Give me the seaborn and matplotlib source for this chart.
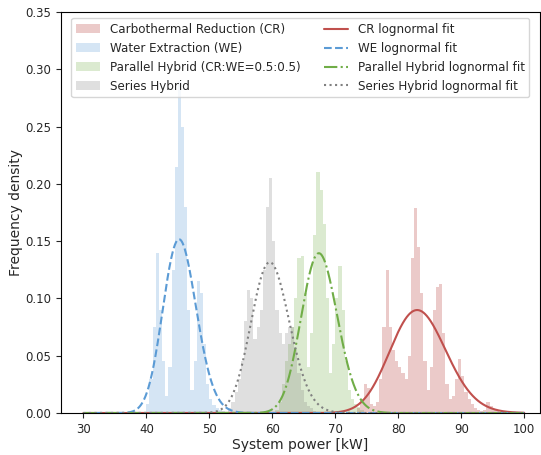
import numpy as np
import pandas as pd
import matplotlib
matplotlib.use("Agg")
import matplotlib.pyplot as plt
import seaborn as sns
from matplotlib.patches import Patch
from matplotlib.lines import Line2D

sns.set_style("ticks")
plt.rcParams['font.family'] = ['DejaVu Sans']

BIN_W = 0.5

# Histogram densities (per 0.5 kW bin), first bin left edge given
cr_start = 73.5
cr_heights = [0.004, 0.012, 0.025, 0.022, 0.008, 0.006, 0.01, 0.03, 0.075, 0.125,
              0.075, 0.055, 0.045, 0.04, 0.035, 0.03, 0.05, 0.135, 0.179, 0.145,
              0.105, 0.045, 0.02, 0.04, 0.09, 0.11, 0.113, 0.07, 0.025, 0.012,
              0.015, 0.03, 0.047, 0.032, 0.018, 0.012, 0.008, 0.004, 0.003, 0.002,
              0.003, 0.01, 0.006, 0.003, 0.002, 0.001]

we_start = 40.0
we_heights = [0.008, 0.03, 0.075, 0.14, 0.09, 0.045, 0.015, 0.04, 0.125, 0.215,
              0.29, 0.25, 0.18, 0.09, 0.02, 0.045, 0.115, 0.105, 0.06, 0.025,
              0.012, 0.007, 0.004, 0.003, 0.002]

ph_start = 60.5
ph_heights = [0.003, 0.01, 0.025, 0.045, 0.06, 0.075, 0.1, 0.135, 0.137, 0.105,
              0.04, 0.07, 0.155, 0.21, 0.195, 0.165, 0.1, 0.035, 0.06, 0.1,
              0.128, 0.09, 0.045, 0.02, 0.012, 0.008, 0.005, 0.003]

sh_start = 53.0
sh_heights = [0.004, 0.01, 0.018, 0.03, 0.045, 0.08, 0.107, 0.1, 0.065, 0.075,
              0.09, 0.125, 0.18, 0.205, 0.15, 0.09, 0.07, 0.06, 0.07, 0.075,
              0.075, 0.055, 0.035, 0.02, 0.01, 0.006, 0.004, 0.002]

# Lognormal fit parameters (shape sigma, scale = exp(mu))
cr_fit = (0.0534, 83.24)
we_fit = (0.0581, 45.35)
ph_fit = (0.0424, 67.52)
sh_fit = (0.0508, 59.75)

hist_labels = ["Carbothermal Reduction (CR)", "Water Extraction (WE)",
               "Parallel Hybrid (CR:WE=0.5:0.5)", "Series Hybrid"]
fit_labels = ["CR lognormal fit", "WE lognormal fit",
              "Parallel Hybrid lognormal fit", "Series Hybrid lognormal fit"]
colors = ["#C0504D", "#5B9BD5", "#70AD47", "#808080"]
line_styles = ["-", "--", "-.", ":"]
hist_alpha = [0.3, 0.25, 0.25, 0.25]

fig = plt.figure(figsize=(5.41, 4.55), dpi=100)
ax = fig.add_axes([0.1128, 0.0923, 0.998 - 0.1128, 0.9736 - 0.0923])

series = [(cr_start, cr_heights), (we_start, we_heights),
          (ph_start, ph_heights), (sh_start, sh_heights)]

for (start, h), c, a in zip(series, colors, hist_alpha):
    n = len(h)
    centers = start + BIN_W * (np.arange(n) + 0.5)
    df = pd.DataFrame({"x": centers, "w": h})
    sns.histplot(data=df, x="x", weights="w", binwidth=BIN_W,
                 binrange=(start, start + n * BIN_W), stat="count",
                 color=c, alpha=a, linewidth=0, ax=ax)

xs = np.linspace(30, 100, 1200)
for (s, scale), c, ls in zip([cr_fit, we_fit, ph_fit, sh_fit], colors, line_styles):
    mu = np.log(scale)
    pdf = np.exp(-(np.log(xs) - mu) ** 2 / (2 * s ** 2)) / (xs * s * np.sqrt(2 * np.pi))
    sns.lineplot(x=xs, y=pdf, color=c, linestyle=ls, linewidth=1.5, ax=ax)

ax.set_xlim(26.45, 102.5)
ax.set_ylim(0, 0.35)
ax.set_xticks(np.arange(30, 101, 10))
ax.set_yticks(np.arange(0, 0.351, 0.05))
ax.yaxis.set_major_formatter(matplotlib.ticker.FormatStrFormatter("%.2f"))
ax.tick_params(labelsize=8.5, length=3.5, width=0.8)
ax.set_xlabel("System power [kW]", fontsize=10, labelpad=1.5)
ax.set_ylabel("Frequency density", fontsize=10, labelpad=2)
for sp in ax.spines.values():
    sp.set_color("black")
    sp.set_linewidth(0.8)

handles = [Patch(facecolor=c, alpha=a, edgecolor="none", label=l)
           for c, a, l in zip(colors, hist_alpha, hist_labels)]
handles += [Line2D([0], [0], color=c, linestyle=ls, linewidth=1.5, label=l)
            for c, ls, l in zip(colors, line_styles, fit_labels)]
ax.legend(handles=handles, loc="upper center", ncol=2, fontsize=8.6,
          frameon=True, framealpha=0.8)

fig.savefig("out.png", dpi=100)
